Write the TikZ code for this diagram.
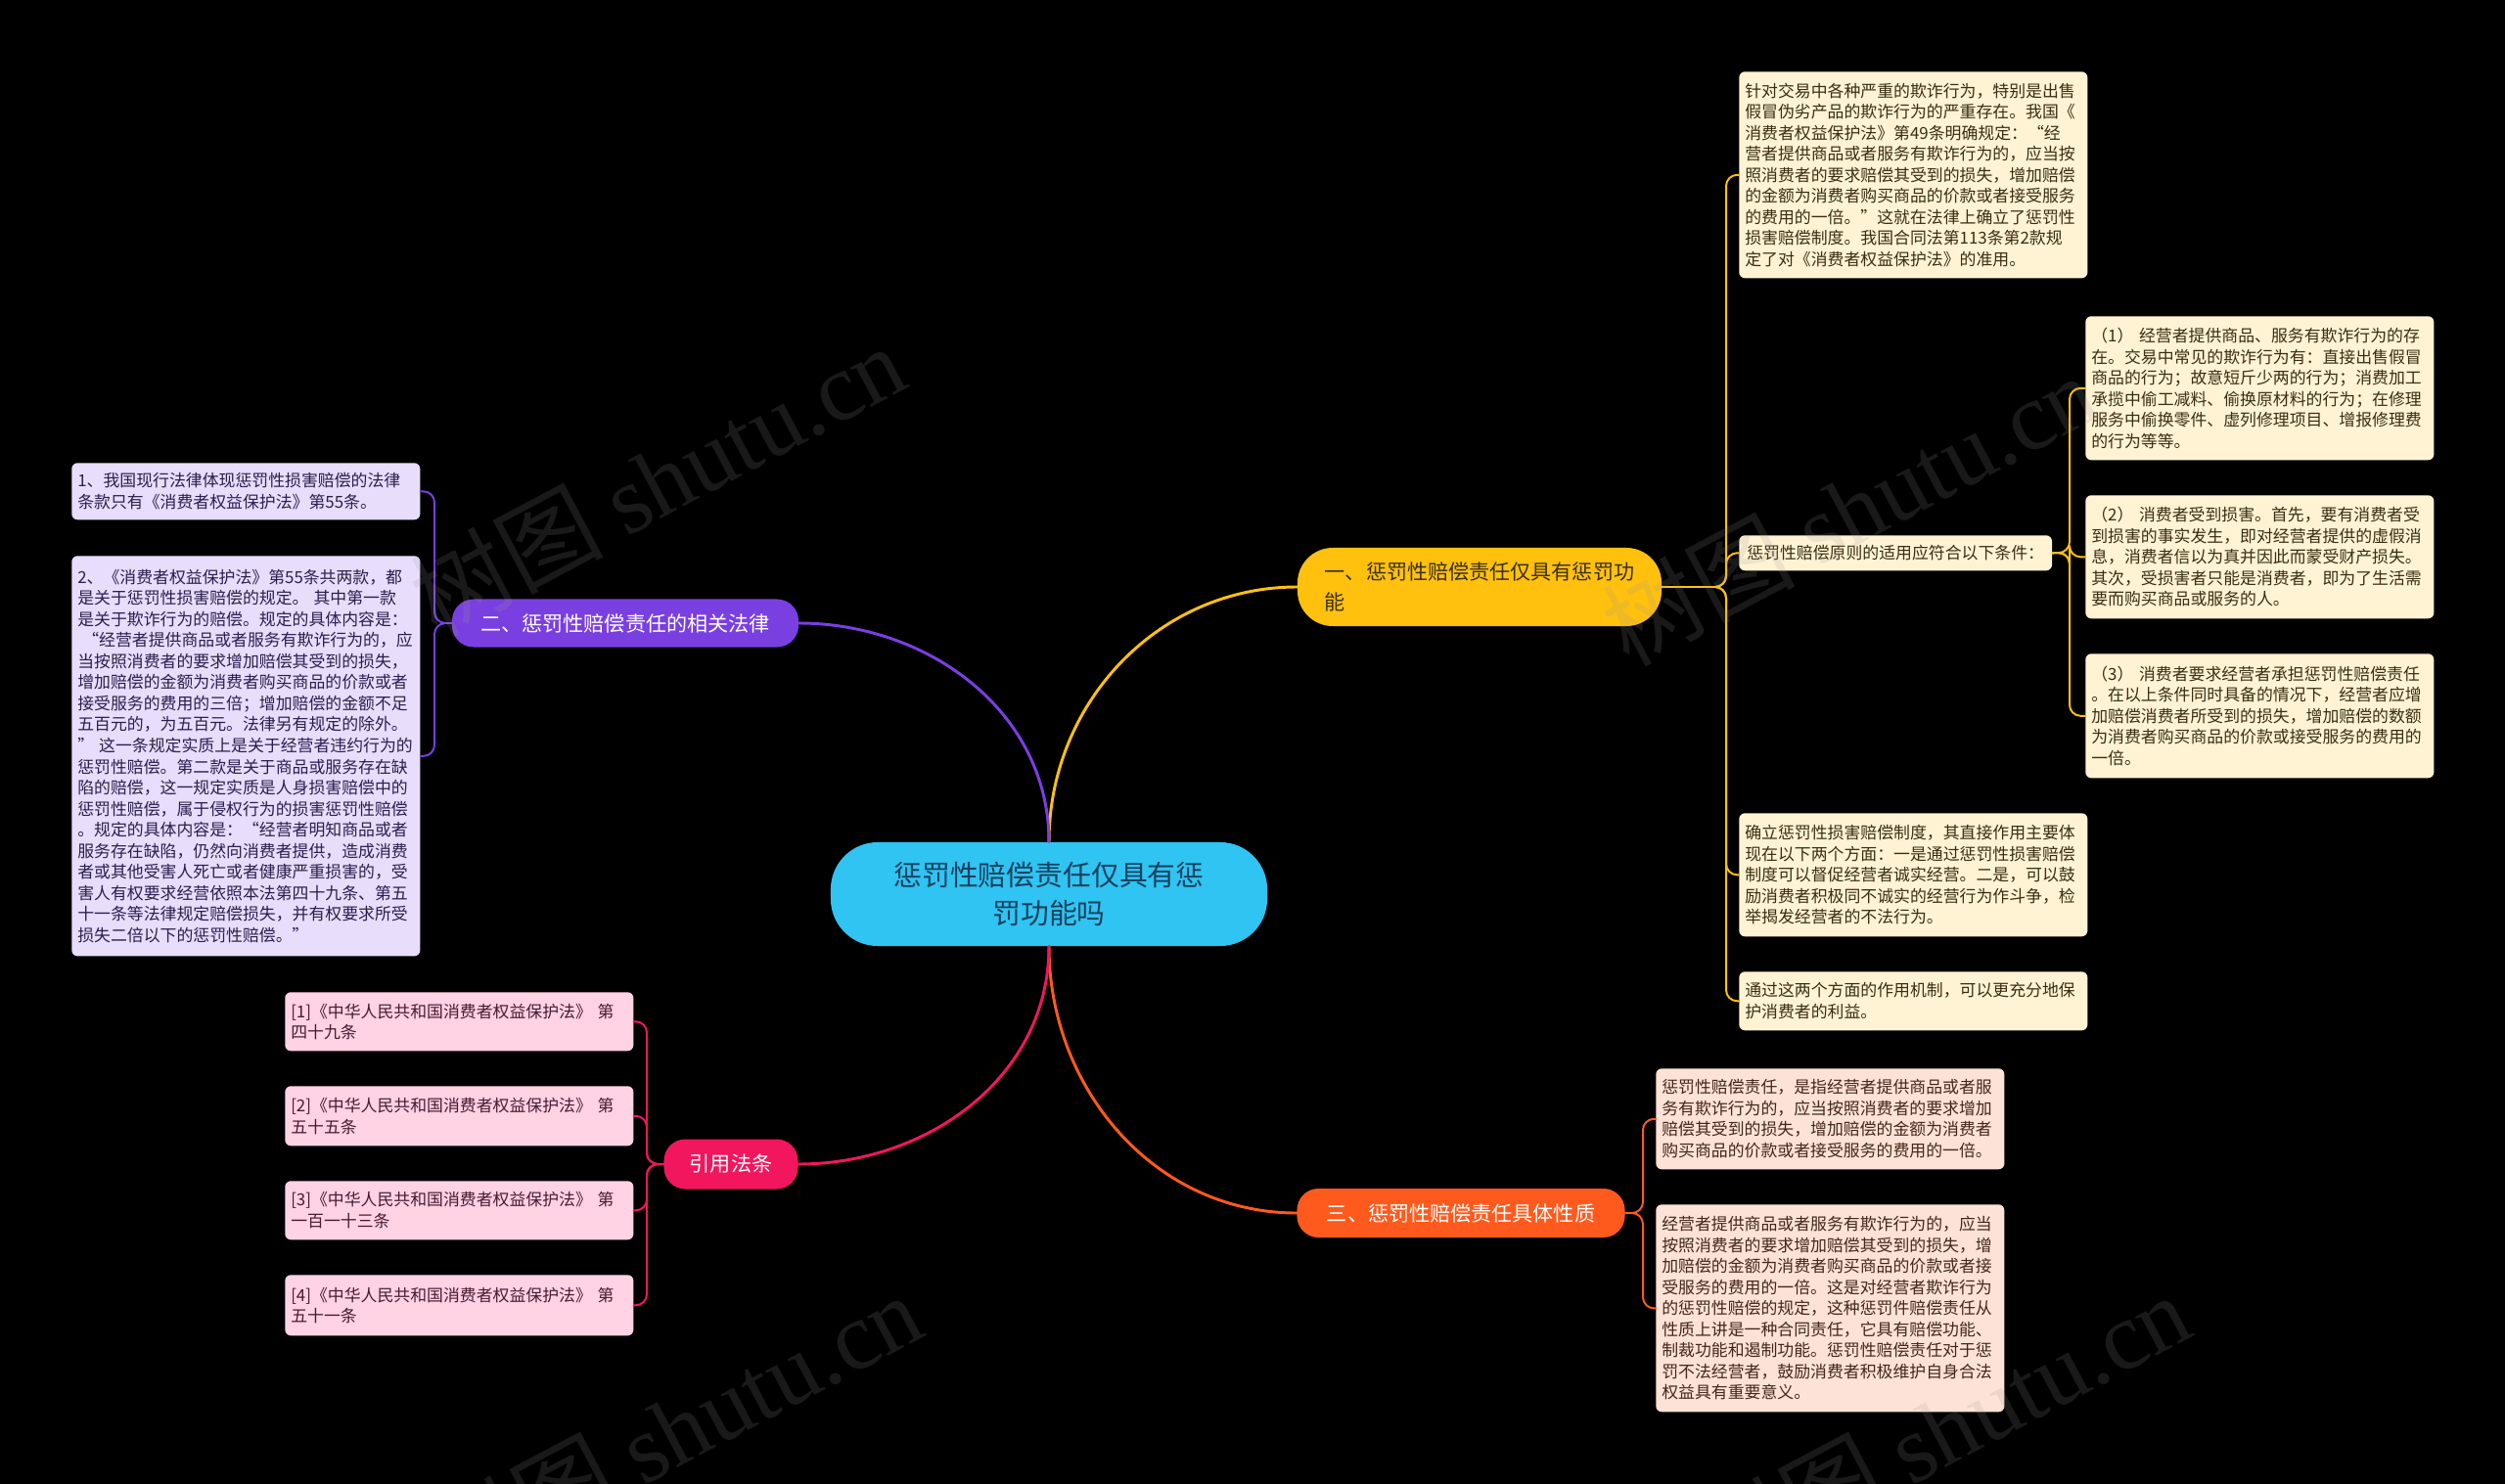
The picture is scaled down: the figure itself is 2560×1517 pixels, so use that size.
\documentclass[tikz,border=0pt]{standalone}
\usepackage{fontspec}
\setmainfont{Noto Sans CJK SC}
\newfontfamily\wmfont{Liberation Serif}
\usetikzlibrary{positioning}

\definecolor{ctrfill}{HTML}{2FC4F2}
\definecolor{ctrink}{HTML}{17405E}
\definecolor{ylw}{HTML}{FFC10E}
\definecolor{ylwink}{HTML}{3A2E12}
\definecolor{ylwleaf}{HTML}{FFF3D4}
\definecolor{prp}{HTML}{7A3FE0}
\definecolor{prpink}{HTML}{2B1F4F}
\definecolor{prpleaf}{HTML}{E8DDFB}
\definecolor{org}{HTML}{FF5A1E}
\definecolor{orgink}{HTML}{45261A}
\definecolor{orgleaf}{HTML}{FDE3D7}
\definecolor{pnk}{HTML}{F2165F}
\definecolor{pnkink}{HTML}{4A1A30}
\definecolor{pnkleaf}{HTML}{FFD2E4}
\definecolor{wmgray}{HTML}{9A9A9A}

\newcommand{\ctrfont}{\fontsize{20.5pt}{27.8pt}\selectfont}
\newcommand{\brfont}{\fontsize{15pt}{22pt}\selectfont}
\newcommand{\leaffont}{\fontsize{12pt}{15.3pt}\selectfont}
\newcommand{\wmtext}{树图 {\wmfont shutu.cn}}

\begin{document}
\begin{tikzpicture}[
  x=0.025cm,
  y=0.025cm,
  line cap=round,
  line join=round,
  every node/.style={inner sep=0pt},
  root/.style={fill=ctrfill,text=ctrink,rounded corners=1.2cm,align=center,font=\ctrfont,
    minimum width=11.15cm,minimum height=2.65cm},
  topic/.style={text=white,rounded corners=0.55cm,align=left,font=\brfont,minimum height=1.25cm},
  leaf/.style={anchor=north west,rounded corners=0.15cm,text width=8.6cm,inner xsep=0.15cm,
    align=left,font=\leaffont},
  trunk/.style={line width=2.1pt},
  twig/.style={line width=1.4pt,rounded corners=8pt},
  wmark/.style={rotate=28,text=wmgray,opacity=0.17,font=\fontsize{70pt}{70pt}\selectfont}
]
% Page and background.
\useasboundingbox (0,0) rectangle (2560,-1517);
\fill[black] (0,0) rectangle (2560,-1517);

% Central topic and the four main topics.
\node[root] (ctr) at (1072,-914) {惩罚性赔偿责任仅具有惩\\罚功能吗};
\node[topic,fill=ylw,text=ylwink,rounded corners=0.9cm,minimum width=9.3cm,minimum height=2cm]
  (one) at (1512,-600) {一、惩罚性赔偿责任仅具有惩罚功\\能};
\node[topic,fill=prp,minimum width=8.85cm,minimum height=1.225cm]
  (two) at (639,-637) {二、惩罚性赔偿责任的相关法律};
\node[topic,fill=org,minimum width=8.375cm]
  (three) at (1493,-1240) {三、惩罚性赔偿责任具体性质};
\node[topic,fill=pnk,minimum width=3.425cm,minimum height=1.275cm]
  (cite) at (747,-1190) {引用法条};

\draw[trunk,ylw] (ctr.north) to[out=90,in=180] (one.west);
\draw[trunk,prp] (ctr.north) to[out=90,in=0] (two.east);
\draw[trunk,org] (ctr.south) to[out=-90,in=180] (three.west);
\draw[trunk,pnk] (ctr.south) to[out=-90,in=0] (cite.east);

% (1) The punitive function.
\begin{scope}[every node/.append style={fill=ylwleaf,text=ylwink}]
  \node[leaf,minimum height=5.275cm] (oneA) at (1777,-73)
    {针对交易中各种严重的欺诈行为，特别是出售\\
     假冒伪劣产品的欺诈行为的严重存在。我国《\\
     消费者权益保护法》第49条明确规定：“经\\
     营者提供商品或者服务有欺诈行为的，应当按\\
     照消费者的要求赔偿其受到的损失，增加赔偿\\
     的金额为消费者购买商品的价款或者接受服务\\
     的费用的一倍。”这就在法律上确立了惩罚性\\
     损害赔偿制度。我国合同法第113条第2款规\\
     定了对《消费者权益保护法》的准用。};
  \node[anchor=north west,rounded corners=0.15cm,inner xsep=0.2cm,font=\leaffont,
    minimum height=0.9cm] (oneB) at (1777,-547) {惩罚性赔偿原则的适用应符合以下条件：};
  \node[leaf,minimum height=3.675cm] (condA) at (2131,-323)
    {（1） 经营者提供商品、服务有欺诈行为的存\\
     在。交易中常见的欺诈行为有：直接出售假冒\\
     商品的行为；故意短斤少两的行为；消费加工\\
     承揽中偷工减料、偷换原材料的行为；在修理\\
     服务中偷换零件、虚列修理项目、增报修理费\\
     的行为等等。};
  \node[leaf,minimum height=3.15cm] (condB) at (2131,-506)
    {（2） 消费者受到损害。首先，要有消费者受\\
     到损害的事实发生，即对经营者提供的虚假消\\
     息，消费者信以为真并因此而蒙受财产损失。\\
     其次，受损害者只能是消费者，即为了生活需\\
     要而购买商品或服务的人。};
  \node[leaf,minimum height=3.175cm] (condC) at (2131,-668)
    {（3） 消费者要求经营者承担惩罚性赔偿责任\\
     。在以上条件同时具备的情况下，经营者应增\\
     加赔偿消费者所受到的损失，增加赔偿的数额\\
     为消费者购买商品的价款或接受服务的费用的\\
     一倍。};
  \node[leaf,minimum height=3.15cm] (oneC) at (1777,-831)
    {确立惩罚性损害赔偿制度，其直接作用主要体\\
     现在以下两个方面：一是通过惩罚性损害赔偿\\
     制度可以督促经营者诚实经营。二是，可以鼓\\
     励消费者积极同不诚实的经营行为作斗争，检\\
     举揭发经营者的不法行为。};
  \node[leaf,minimum height=1.5cm] (oneD) at (1777,-993)
    {通过这两个方面的作用机制，可以更充分地保\\
     护消费者的利益。};
\end{scope}
\coordinate (oneT) at (1764,-600);
\coordinate (condT) at (2115,-565);
\draw[twig,ylw] (one.east) -- (oneT) |- (oneA.west);
\draw[twig,ylw] (one.east) -- (oneT) |- (oneB.west);
\draw[twig,ylw] (one.east) -- (oneT) |- (oneC.west);
\draw[twig,ylw] (one.east) -- (oneT) |- (oneD.west);
\draw[twig,ylw] (oneB.east) -- (condT) |- (condA.west);
\draw[twig,ylw] (oneB.east) -- (condT) |- (condB.west);
\draw[twig,ylw] (oneB.east) -- (condT) |- (condC.west);

% (2) Related law.
\begin{scope}[every node/.append style={fill=prpleaf,text=prpink}]
  \node[leaf,minimum height=1.45cm] (twoA) at (73,-473)
    {1、我国现行法律体现惩罚性损害赔偿的法律\\
     条款只有《消费者权益保护法》第55条。};
  \node[leaf,minimum height=10.225cm] (twoB) at (73,-568)
    {2、《消费者权益保护法》第55条共两款，都\\
     是关于惩罚性损害赔偿的规定。\kern.3em其中第一款\\
     是关于欺诈行为的赔偿。规定的具体内容是：\\
     \mbox{\kern.3em“经营者提供商品或者服务有欺诈行为的，应}\\
     当按照消费者的要求增加赔偿其受到的损失，\\
     增加赔偿的金额为消费者购买商品的价款或者\\
     接受服务的费用的三倍；增加赔偿的金额不足\\
     五百元的，为五百元。法律另有规定的除外。\\
     \mbox{”\kern.3em这一条规定实质上是关于经营者违约行为的}\\
     惩罚性赔偿。第二款是关于商品或服务存在缺\\
     陷的赔偿，这一规定实质是人身损害赔偿中的\\
     惩罚性赔偿，属于侵权行为的损害惩罚性赔偿\\
     。规定的具体内容是：“经营者明知商品或者\\
     服务存在缺陷，仍然向消费者提供，造成消费\\
     者或其他受害人死亡或者健康严重损害的，受\\
     害人有权要求经营依照本法第四十九条、第五\\
     十一条等法律规定赔偿损失，并有权要求所受\\
     损失二倍以下的惩罚性赔偿。”};
\end{scope}
\coordinate (twoT) at (444,-637);
\draw[twig,prp] (two.west) -- (twoT) |- (twoA.east);
\draw[twig,prp] (two.west) -- (twoT) |- (twoB.east);

% (3) Its nature.
\begin{scope}[every node/.append style={fill=orgleaf,text=orgink}]
  \node[leaf,minimum height=2.575cm] (threeA) at (1692,-1092)
    {惩罚性赔偿责任，是指经营者提供商品或者服\\
     务有欺诈行为的，应当按照消费者的要求增加\\
     赔偿其受到的损失，增加赔偿的金额为消费者\\
     购买商品的价款或者接受服务的费用的一倍。};
  \node[leaf,minimum height=5.3cm] (threeB) at (1692,-1231)
    {经营者提供商品或者服务有欺诈行为的，应当\\
     按照消费者的要求增加赔偿其受到的损失，增\\
     加赔偿的金额为消费者购买商品的价款或者接\\
     受服务的费用的一倍。这是对经营者欺诈行为\\
     的惩罚性赔偿的规定，这种惩罚件赔偿责任从\\
     性质上讲是一种合同责任，它具有赔偿功能、\\
     制裁功能和遏制功能。惩罚性赔偿责任对于惩\\
     罚不法经营者，鼓励消费者积极维护自身合法\\
     权益具有重要意义。};
\end{scope}
\coordinate (threeT) at (1679,-1240);
\draw[twig,org] (three.east) -- (threeT) |- (threeA.west);
\draw[twig,org] (three.east) -- (threeT) |- (threeB.west);

% Cited articles.
\begin{scope}[every node/.append style={fill=pnkleaf,text=pnkink}]
  \node[leaf,minimum height=1.5cm] (citeA) at (291,-1014)
    {[1]《中华人民共和国消费者权益保护法》 第\\四十九条};
  \node[leaf,minimum height=1.525cm] (citeB) at (291,-1110)
    {[2]《中华人民共和国消费者权益保护法》 第\\五十五条};
  \node[leaf,minimum height=1.5cm] (citeC) at (291,-1207)
    {[3]《中华人民共和国消费者权益保护法》 第\\一百一十三条};
  \node[leaf,minimum height=1.55cm] (citeD) at (291,-1303)
    {[4]《中华人民共和国消费者权益保护法》 第\\五十一条};
\end{scope}
\coordinate (citeT) at (661,-1190);
\draw[twig,pnk] (cite.west) -- (citeT) |- (citeA.east);
\draw[twig,pnk] (cite.west) -- (citeT) |- (citeB.east);
\draw[twig,pnk] (cite.west) -- (citeT) |- (citeC.east);
\draw[twig,pnk] (cite.west) -- (citeT) |- (citeD.east);

% Watermarks.
\node[wmark] (wmA) at (672,-490) {\wmtext};
\node[wmark] (wmB) at (1890,-520) {\wmtext};
\node[wmark] (wmC) at (689,-1460) {\wmtext};
\node[wmark] (wmD) at (1985,-1460) {\wmtext};
\end{tikzpicture}
\end{document}
